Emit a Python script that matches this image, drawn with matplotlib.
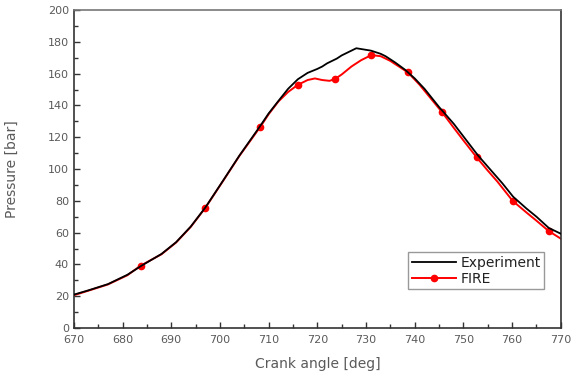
import numpy as np
import matplotlib
matplotlib.use('Agg')
import matplotlib.pyplot as plt
from matplotlib.ticker import MultipleLocator

# Experiment (black)
exp_angle = [670, 673, 677, 681, 684, 688, 691, 694, 697, 700.7, 704, 708.2, 710, 712.3, 714,
             716, 718, 720, 721, 722, 723, 724, 725, 726, 727, 728, 729, 730, 731,
             732, 733, 734, 736, 738, 740, 742, 745, 748, 750, 753, 755, 758, 760.2,
             763, 765, 767.5, 770]
exp_p = [21, 23.7, 27.6, 33.5, 39.4, 46.6, 54, 63.8, 75.8, 93, 108.5, 126.8, 135, 144, 150.5,
         156.5, 160.5, 163, 164.5, 166.5, 168, 169.5, 171.5, 173, 174.5, 176, 175.5, 175, 174.5,
         173.5, 172.5, 171, 167, 162.5, 157, 150.5, 139, 128.5, 120.5, 108.5, 101.5, 91, 82.6,
         75, 70, 63, 59.3]

# FIRE simulation (red)
fire_angle = [670, 673, 677, 681, 683.7, 688, 691, 694, 697, 700.7, 704, 708.3, 710, 712, 714,
              716, 718, 719.5, 721, 722.5, 723.6, 725, 727, 729, 731.1, 733, 735, 738.6, 741,
              745.6, 748, 750, 752.7, 755, 757, 760.1, 763, 765, 767.5, 770]
fire_p = [20.6, 23.5, 27.4, 33.2, 39.2, 46.4, 53.8, 63.6, 75.6, 92.8, 108.3, 126.6, 134.5, 142.5, 148.5,
          153, 156, 157, 156, 155.5, 156.6, 159.5, 164.5, 168.5, 171.7, 171, 168, 160.8, 153,
          135.8, 126, 118, 107.4, 99, 92, 80, 72.5, 67.5, 61, 56.2]
fire_marks = [683.7, 697, 708.3, 716, 723.6, 731.1, 738.6, 745.6, 752.7, 760.1, 767.5]

txt = '#5a5a5a'
plt.rcParams['font.family'] = ['DejaVu Sans']

fig = plt.figure(figsize=(5.77, 3.74), dpi=100)
ax = fig.add_axes([0.128, 0.123, 0.844, 0.850])

mark_idx = [fire_angle.index(a) for a in fire_marks]
l_exp, = ax.plot(exp_angle, exp_p, color='black', lw=1.3, label='Experiment', zorder=3)
l_fire, = ax.plot(fire_angle, fire_p, color='#ff0000', lw=1.4, marker='o', markersize=4.5,
                  markevery=mark_idx, label='FIRE', zorder=2)

ax.set_xlim(670, 770)
ax.set_ylim(0, 200)
ax.xaxis.set_major_locator(MultipleLocator(10))
ax.xaxis.set_minor_locator(MultipleLocator(5))
ax.yaxis.set_major_locator(MultipleLocator(20))
ax.yaxis.set_minor_locator(MultipleLocator(10))
ax.tick_params(which='both', direction='in', colors='#333333', labelcolor=txt,
               labelsize=8, width=1)
ax.tick_params(which='major', length=4.5)
ax.tick_params(which='minor', length=3)
ax.tick_params(axis='x', pad=5)

for s in ax.spines.values():
    s.set_linewidth(1.2)
    s.set_color('#333333')
ax.spines['top'].set_color('#777777')

ax.set_xlabel('Crank angle [deg]', fontsize=10, color=txt, labelpad=9)
ax.set_ylabel('Pressure [bar]', fontsize=10, color=txt, labelpad=21)

leg = ax.legend([l_exp, l_fire], ['Experiment', 'FIRE'], loc='lower right',
                bbox_to_anchor=(0.98, 0.1), fontsize=10,
                handlelength=3.2, handletextpad=0.3, borderpad=0.25, labelspacing=0.15,
                fancybox=False, framealpha=1, edgecolor='#999999')
for t in leg.get_texts():
    t.set_color('#222222')

fig.savefig('out.png', dpi=100)
